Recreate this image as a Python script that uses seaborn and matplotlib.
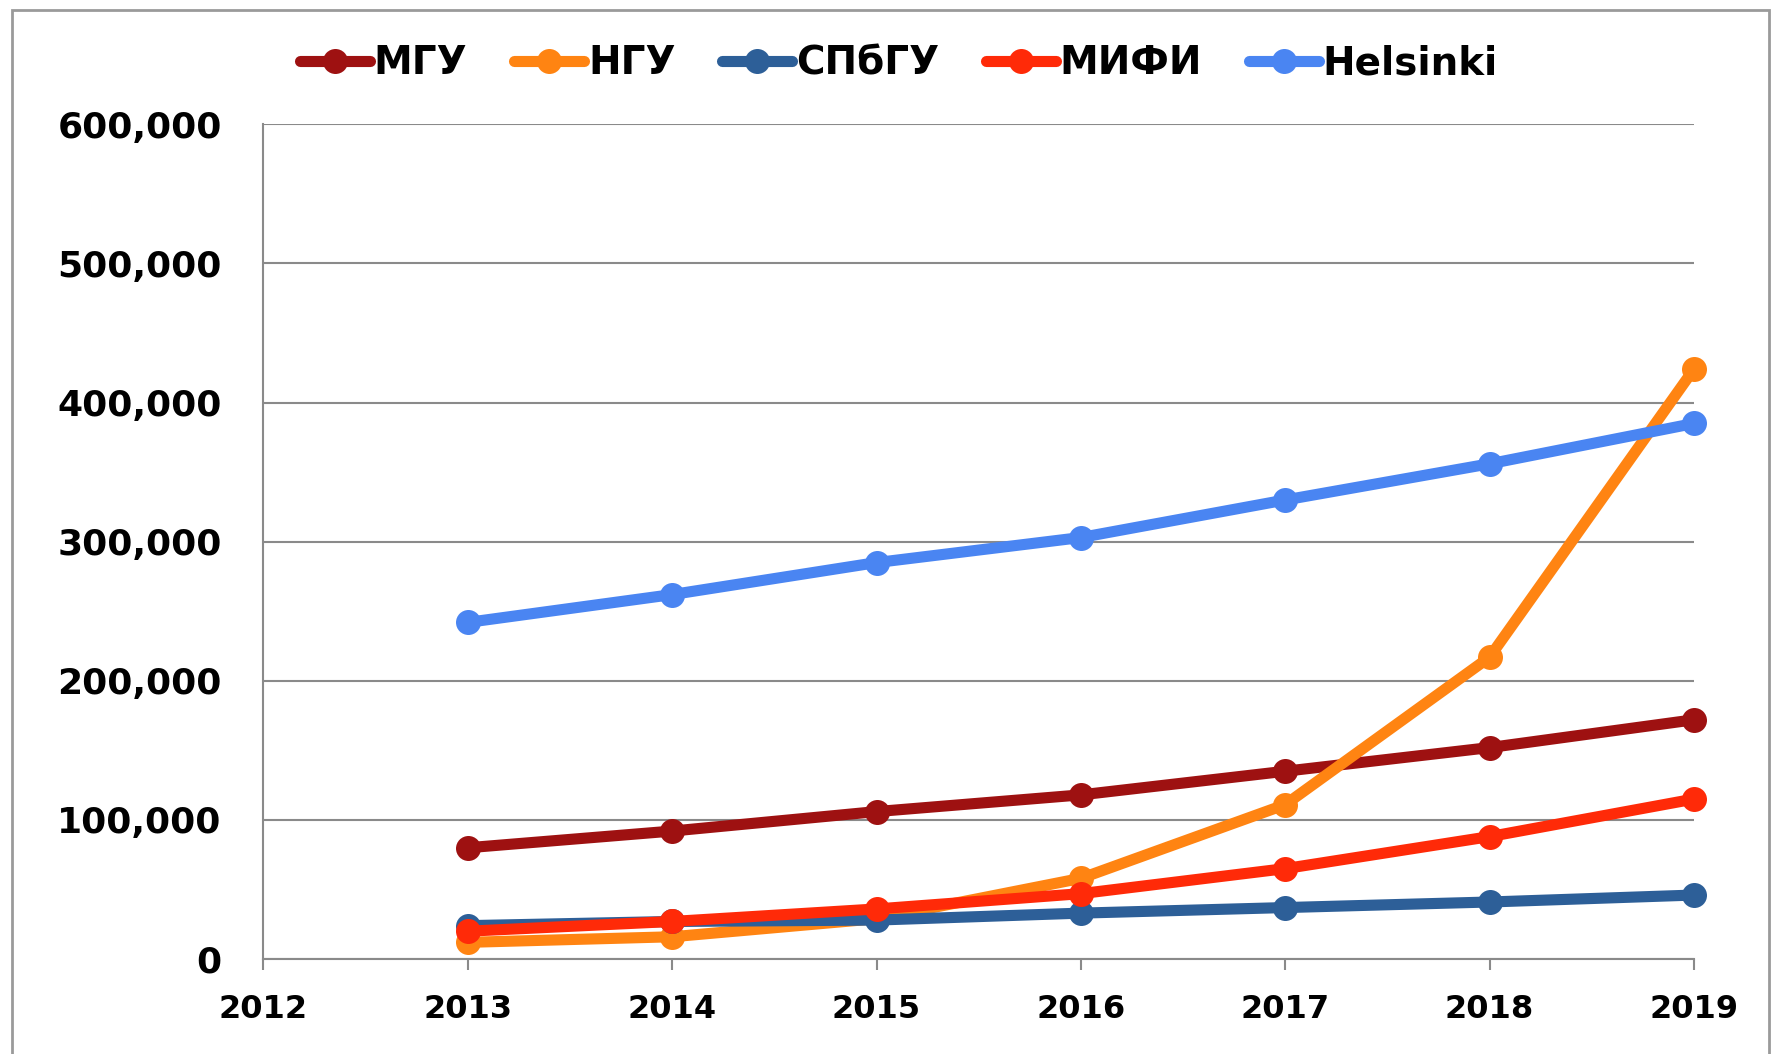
import pandas as pd
import seaborn as sns
import matplotlib.pyplot as plt
from matplotlib.patches import Rectangle
from matplotlib.ticker import FuncFormatter

years = [2013, 2014, 2015, 2016, 2017, 2018, 2019]
names = ['МГУ', 'НГУ', 'СПбГУ', 'МИФИ', 'Helsinki']
mgu = [80000, 92000, 106000, 118000, 135000, 152000, 172000]
ngu = [12000, 16000, 29000, 58000, 111000, 217000, 424000]
spbgu = [24000, 27000, 28000, 33000, 37000, 41000, 46000]
mifi = [20000, 27000, 36000, 47000, 65000, 88000, 115000]
helsinki = [242000, 262000, 285000, 303000, 330000, 356000, 385000]
colors = ['#9e1111', '#ff8412', '#2d5f98', '#ff2a08', '#4a85f2']

series = [mgu, ngu, spbgu, mifi, helsinki]
df = pd.DataFrame({
    'year': years * len(names),
    'value': [v for s in series for v in s],
    'name': [n for n in names for _ in years],
})

sns.set_style('white')
plt.rcParams['font.family'] = ['DejaVu Sans']
plt.rcParams['font.weight'] = 'bold'
plt.rcParams['text.color'] = 'black'

fig = plt.figure(figsize=(17.73, 10.54), dpi=100)
ax = fig.add_axes([0.1486, 0.0901, 0.8068, 0.7919])

for name, color in zip(names, colors):
    sub = df[df['name'] == name]
    sns.lineplot(data=sub, x='year', y='value', ax=ax, color=color, marker='o',
                 markersize=18, markeredgewidth=0, linewidth=8, label=name,
                 clip_on=False, zorder=3)

ax.set_xlim(2012, 2019)
ax.set_ylim(0, 600000)
ax.set_xticks(range(2012, 2020))
ax.set_yticks(range(0, 600001, 100000))
ax.yaxis.set_major_formatter(FuncFormatter(lambda v, p: f'{v:,.0f}'))
ax.set_xlabel('')
ax.set_ylabel('')
ax.grid(axis='y', color='#8a8a8a', linewidth=1.5)
ax.grid(axis='x', visible=False)
for s in ['top', 'right']:
    ax.spines[s].set_visible(False)
for s in ['left', 'bottom']:
    ax.spines[s].set_color('#8a8a8a')
    ax.spines[s].set_linewidth(1.5)
ax.tick_params(axis='x', labelsize=23, length=8, width=1.5, color='#8a8a8a', pad=17,
               direction='out', bottom=True, labelcolor='black')
ax.tick_params(axis='y', labelsize=26, length=0, pad=30, labelcolor='black')

ax.legend(loc='center', bbox_to_anchor=(0.507, 0.940), bbox_transform=fig.transFigure,
          ncol=5, frameon=False, fontsize=28, handlelength=1.8, handletextpad=0.1,
          columnspacing=1.2, labelcolor='black')

fig.patches.append(Rectangle((0.0068, -0.02), 0.9909, 1.0105, transform=fig.transFigure,
                             fill=False, edgecolor='#9a9a9a', linewidth=2))

fig.savefig('out.png', dpi=100)
